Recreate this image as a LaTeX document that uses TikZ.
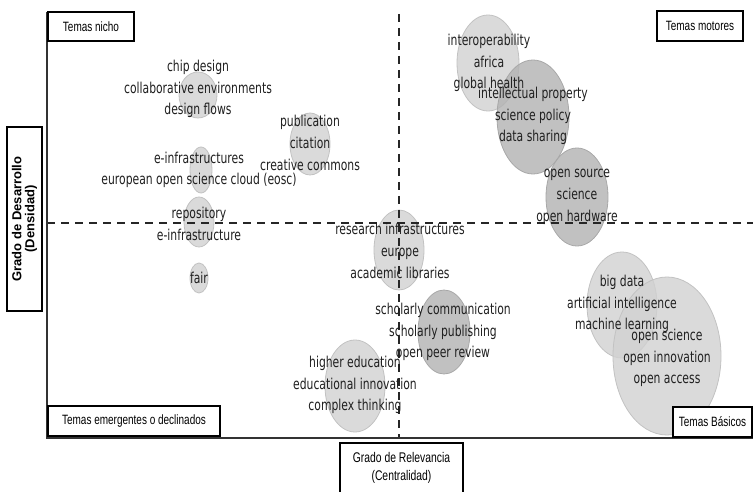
\documentclass[tikz,border=0pt]{standalone}
\usepackage{fontspec}
\setmainfont{Liberation Sans}
\newfontfamily\bubfont{DejaVu Sans}[FakeStretch=0.72]
\newfontfamily\boxfont{Liberation Sans}[FakeStretch=0.74]
\usetikzlibrary{positioning,shapes.geometric}
\tikzset{
  bubble/.style={ellipse, draw=black!24, fill=black!18, fill opacity=0.8, line width=0.8pt, inner sep=0pt},
  bubble2/.style={ellipse, draw=black!34, fill=black!30, fill opacity=0.8, line width=0.8pt, inner sep=0pt},
  topic/.style={font=\bubfont\fontsize{15}{21.7}\selectfont, text=black!88, align=center, inner sep=0pt},
  quadbox/.style={draw, line width=1.4pt, fill=white, font=\boxfont\fontsize{13.5}{16}\selectfont, inner sep=0pt},
  axislabel/.style={draw, line width=1.1pt, fill=white, align=center, inner sep=0pt},
  axisline/.style={line width=1.6pt, black!80},
  midline/.style={line width=1.6pt, black!85, dash pattern=on 8pt off 6pt}
}

\begin{document}
\begin{tikzpicture}[x=1pt, y=-1pt]
  \useasboundingbox (0,0) rectangle (753,492);
  % bubbles
  \node[bubble, minimum width=38pt, minimum height=46pt] (b-chip) at (198,95) {};
  \node[bubble, minimum width=40pt, minimum height=62pt] (b-pub) at (310,144) {};
  \node[bubble, minimum width=22pt, minimum height=46pt] (b-einfra) at (201,170) {};
  \node[bubble, minimum width=30pt, minimum height=50pt] (b-repo) at (199,222) {};
  \node[bubble, minimum width=18pt, minimum height=30pt] (b-fair) at (199,278) {};
  \node[bubble, minimum width=50pt, minimum height=80pt] (b-resinf) at (399,250) {};
  \node[bubble2, minimum width=52pt, minimum height=84pt] (b-schol) at (444,332) {};
  \node[bubble, minimum width=60pt, minimum height=92pt] (b-highed) at (355,386) {};
  \node[bubble, minimum width=62pt, minimum height=96pt] (b-interop) at (488,63) {};
  \node[bubble2, minimum width=72pt, minimum height=114pt] (b-intprop) at (533,117) {};
  \node[bubble2, minimum width=62pt, minimum height=98pt] (b-opensrc) at (577,197) {};
  \node[bubble, minimum width=70pt, minimum height=106pt] (b-bigdata) at (622,305) {};
  \node[bubble, minimum width=108pt, minimum height=158pt] (b-opensci) at (667,356) {};

  % axes and quadrant lines
  \coordinate (orig) at (47,438);
  \coordinate (ytop) at (47,12);
  \coordinate (xend) at (753,438);
  \coordinate (hleft) at (47,223);
  \coordinate (hright) at (753,223);
  \coordinate (vtop) at (399,14);
  \coordinate (vbot) at (399,438);
  \draw[midline] (hleft) -- (hright);
  \draw[midline] (vtop) -- (vbot);
  \draw[axisline] (ytop) -- (orig) -- (xend);

  % topic labels
  \node[topic] (chip) at (198,89) {chip design\\collaborative environments\\design flows};
  \node[topic] (pub) at (310,143) {publication\\citation\\creative commons};
  \node[topic] (einfra) at (199,170) {e-infrastructures\\european open science cloud (eosc)};
  \node[topic] (repo) at (199,224) {repository\\e-infrastructure};
  \node[topic] (fair) at (199,278) {fair};
  \node[topic] (resinf) at (400,251) {research infrastructures\\europe\\academic libraries};
  \node[topic] (schol) at (443,332) {scholarly communication\\scholarly publishing\\open peer review};
  \node[topic] (highed) at (355,385) {higher education\\educational innovation\\complex thinking};
  \node[topic] (interop) at (489,63) {interoperability\\africa\\global health};
  \node[topic] (intprop) at (533,116) {intellectual property\\science policy\\data sharing};
  \node[topic] (opensrc) at (577,197) {open source\\science\\open hardware};
  \node[topic] (bigdata) at (622,304) {big data\\artificial intelligence\\machine learning};
  \node[topic] (opensci) at (667,358) {open science\\open innovation\\open access};

  % quadrant boxes
  \node[quadbox, minimum width=86pt, minimum height=29pt] (nicho) at (91,26.5) {Temas nicho};
  \node[quadbox, minimum width=86pt, minimum height=30pt] (motores) at (700,26) {Temas motores};
  \node[quadbox, minimum width=172pt, minimum height=30pt] (emerg) at (134,421) {Temas emergentes o declinados};
  \node[quadbox, minimum width=79pt, minimum height=30pt] (basicos) at (712.5,422) {Temas Básicos};

  % axis titles
  \node[axislabel, rotate=90, minimum width=184pt, minimum height=35pt, font=\bfseries\fontsize{13}{13}\selectfont] (ylab) at (24.5,219) {Grado de Desarrollo\\(Densidad)};
  \node[axislabel, minimum width=123pt, minimum height=50pt, font=\boxfont\fontsize{14}{18}\selectfont] (xlab) at (401.5,468) {Grado de Relevancia\\(Centralidad)};
\end{tikzpicture}
\end{document}
